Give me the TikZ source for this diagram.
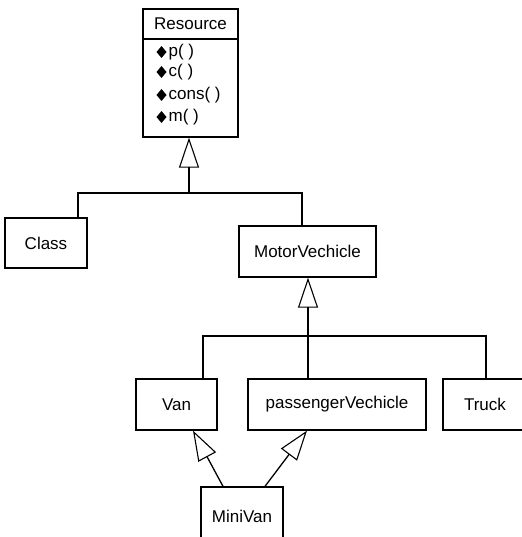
\documentclass[tikz,border=0pt]{standalone}
\usepackage{fontspec}
\setmainfont{Liberation Sans}
\usetikzlibrary{arrows.meta}
\begin{document}
\begin{tikzpicture}[x=1pt,y=-1pt,line width=1.3pt,
  cls/.style={draw,rectangle,inner sep=0pt,font=\fontsize{17}{20}\selectfont,fill=white},
  meth/.style={anchor=west,inner sep=0pt,font=\fontsize{17}{20}\selectfont,text height=12pt,text depth=3.5pt},
  gen/.style={-{Triangle[open,length=30pt,width=20pt,line width=1.1pt]}},
  dia/.style={fill=black,draw=none}]
\useasboundingbox (0,0) rectangle (521,537);
% Resource class
\node[cls,minimum width=95pt,minimum height=30pt] (resH) at (190.5,24) {Resource};
\node[cls,minimum width=95pt,minimum height=98pt] (resB) at (190.5,88) {};
\foreach \yy/\tt/\nn in {52/{p( )}/m1,72/{c( )}/m2,95/{cons( )}/m3,117/{m( )}/m4}{
  \node[meth] (\nn) at (168,\yy) {\tt};
  \fill[dia] (161.5,\yy-6) -- (166.5,\yy) -- (161.5,\yy+6) -- (156.5,\yy) -- cycle;
}
% other classes
\node[cls,minimum width=82pt,minimum height=50pt] (Class) at (46,243) {Class};
\node[cls,minimum width=137pt,minimum height=51pt] (MV) at (307.5,251.5) {MotorVechicle};
\node[cls,minimum width=81pt,minimum height=51pt] (Van) at (176.5,404.5) {Van};
\node[cls,minimum width=178pt,minimum height=51pt] (PV) at (337,404.5) {passengerVechicle};
\node[cls,minimum width=84pt,minimum height=51pt] (Truck) at (485,404.5) {Truck};
\node[cls,minimum width=82pt,minimum height=58pt] (Mini) at (242,516) {MiniVan};
% junctions
\coordinate (j1) at (189,193);
\coordinate (jL) at (78,193);
\coordinate (jR) at (302,193);
\coordinate (j2) at (308,336);
\coordinate (kL) at (203,336);
\coordinate (kR) at (486,336);
% connectors
\draw[gen] (j1) -- (resB.south -| j1);
\draw (Class.north -| jL) -- (jL) -- (jR) -- (MV.north -| jR);
\draw[gen] (j2) -- (MV.south -| j2);
\draw (Van.north -| kL) -- (kL) -- (kR) -- (Truck.north -| kR);
\draw (j2) -- (PV.north -| j2);
\coordinate (a1) at (223,487);
\coordinate (a2) at (265,487);
\coordinate (t1) at (193,430);
\coordinate (t2) at (307,430);
\draw[gen] (Mini.north -| a1) -- (Van.south -| t1);
\draw[gen] (Mini.north -| a2) -- (PV.south -| t2);
\end{tikzpicture}
\end{document}
